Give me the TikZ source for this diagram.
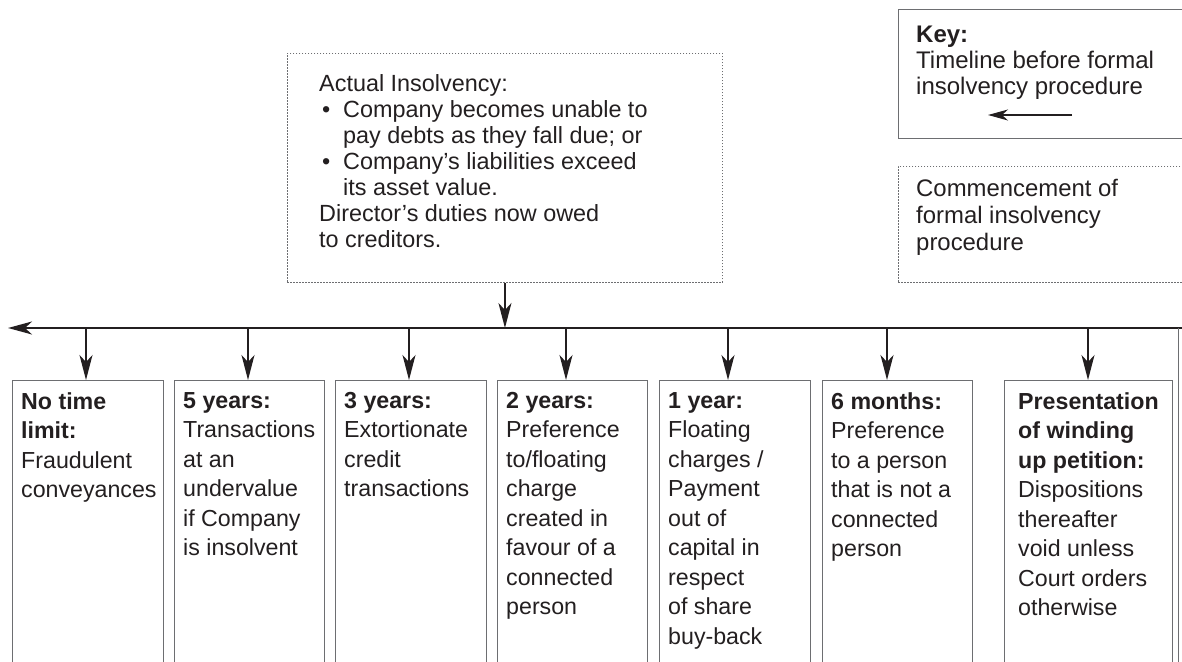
\documentclass[tikz,border=0pt]{standalone}
\usepackage{fontspec}
\setmainfont{Liberation Sans}
\usetikzlibrary{arrows.meta}
\definecolor{ink}{HTML}{231F20}
\definecolor{frame}{HTML}{6D6E71}
\begin{document}
\begin{tikzpicture}[x=1pt,y=-1pt,
  tline/.style={line width=2.2pt, draw=ink, -{Stealth[length=24pt,width=13pt,inset=7pt]}},
  dropar/.style={line width=1.5pt, draw=ink, -{Stealth[length=25pt,width=13pt,inset=7pt]}},
  keyar/.style={line width=1.5pt, draw=ink, -{Stealth[length=20pt,width=11pt,inset=6pt]}},
  tbox/.style={draw=frame, line width=1pt, anchor=north west, inner sep=0pt, minimum height=320pt},
  dotbox/.style={draw=frame, line width=0.9pt, dash pattern=on 1.6pt off 1.4pt, anchor=north west, inner sep=0pt},
  keybox/.style={draw=frame, line width=1pt, anchor=north west, inner sep=0pt},
  btext/.style={anchor=north west, inner sep=0pt, align=left, text=ink, font=\fontsize{23.2}{29.5}\selectfont},
  ttext/.style={anchor=north west, inner sep=0pt, align=left, text=ink, font=\fontsize{23.4}{26}\selectfont},
  ktext/.style={anchor=north west, inner sep=0pt, align=left, text=ink, font=\fontsize{24}{26}\selectfont},
  ctext/.style={anchor=north west, inner sep=0pt, align=left, text=ink, font=\fontsize{23.9}{27}\selectfont}
]
\useasboundingbox (0,0) rectangle (1182,661);

% top box: actual insolvency
\node[dotbox, minimum width=435pt, minimum height=229pt] (ai) at (287,53) {};
\node[ttext] (ait) at (319,74.5) {Actual Insolvency:\\
\hspace*{3pt}\makebox[21pt][l]{•}Company becomes unable to\\
\hspace*{24pt}pay debts as they fall due; or\\
\hspace*{3pt}\makebox[21pt][l]{•}Company’s liabilities exceed\\
\hspace*{24pt}its asset value.\\
Director’s duties now owed\\
to creditors.};

% key box
\node[keybox, minimum width=320pt, minimum height=129pt] (key) at (898,9) {};
\node[ktext] (keyt) at (916,25.5) {\textbf{Key:}\\Timeline before formal\\insolvency procedure};
\coordinate (kaR) at (1072,115);
\coordinate (kaL) at (988,115);
\draw[keyar] (kaR) -- (kaL);

% commencement box
\node[dotbox, minimum width=320pt, minimum height=116pt] (com) at (898,166) {};
\node[ctext] (comt) at (916,179) {Commencement of\\formal insolvency\\procedure};

% timeline
\coordinate (tlR) at (1182,328);
\coordinate (tlL) at (8,328);
\draw[tline] (tlR) -- (tlL);
\draw[dropar] (ai.south) -- (ai.south |- tlL);

% right edge line
\coordinate (reT) at (1178,328);
\coordinate (reB) at (1178,670);
\draw[frame, line width=1pt] (reT) -- (reB);

% boxes
\node[tbox, minimum width=151pt] (b1) at (12,380) {};
\node[tbox, minimum width=150pt] (b2) at (174,380) {};
\node[tbox, minimum width=151pt] (b3) at (335,380) {};
\node[tbox, minimum width=150pt] (b4) at (497,380) {};
\node[tbox, minimum width=151pt] (b5) at (659,380) {};
\node[tbox, minimum width=150pt] (b6) at (822,380) {};
\node[tbox, minimum width=168pt] (b7) at (1004,380) {};

\node[btext] (t1) at (21,392) {\textbf{No time}\\\textbf{limit:}\\Fraudulent\\conveyances};
\node[btext] (t2) at (183,392) {\textbf{5 years:}\\Transactions\\at an\\undervalue\\if Company\\is insolvent};
\node[btext] (t3) at (344,392) {\textbf{3 years:}\\Extortionate\\credit\\transactions};
\node[btext] (t4) at (506,392) {\textbf{2 years:}\\Preference\\to/floating\\charge\\created in\\favour of a\\connected\\person};
\node[btext] (t5) at (668,392) {\textbf{1 year:}\\Floating\\charges /\\Payment\\out of\\capital in\\respect\\of share\\buy-back};
\node[btext] (t6) at (831,392) {\textbf{6 months:}\\Preference\\to a person\\that is not a\\connected\\person};
\node[btext] (t7) at (1018,392) {\textbf{Presentation}\\\textbf{of winding}\\\textbf{up petition:}\\Dispositions\\thereafter\\void unless\\Court orders\\otherwise};

% drops
\foreach \b/\x in {b1/86,b2/248,b3/409,b4/566,b5/728,b6/887,b7/1088}{
  \coordinate (d\b) at (\x,328);
  \draw[dropar] (d\b) -- (d\b |- \b.north);
}
\end{tikzpicture}
\end{document}
